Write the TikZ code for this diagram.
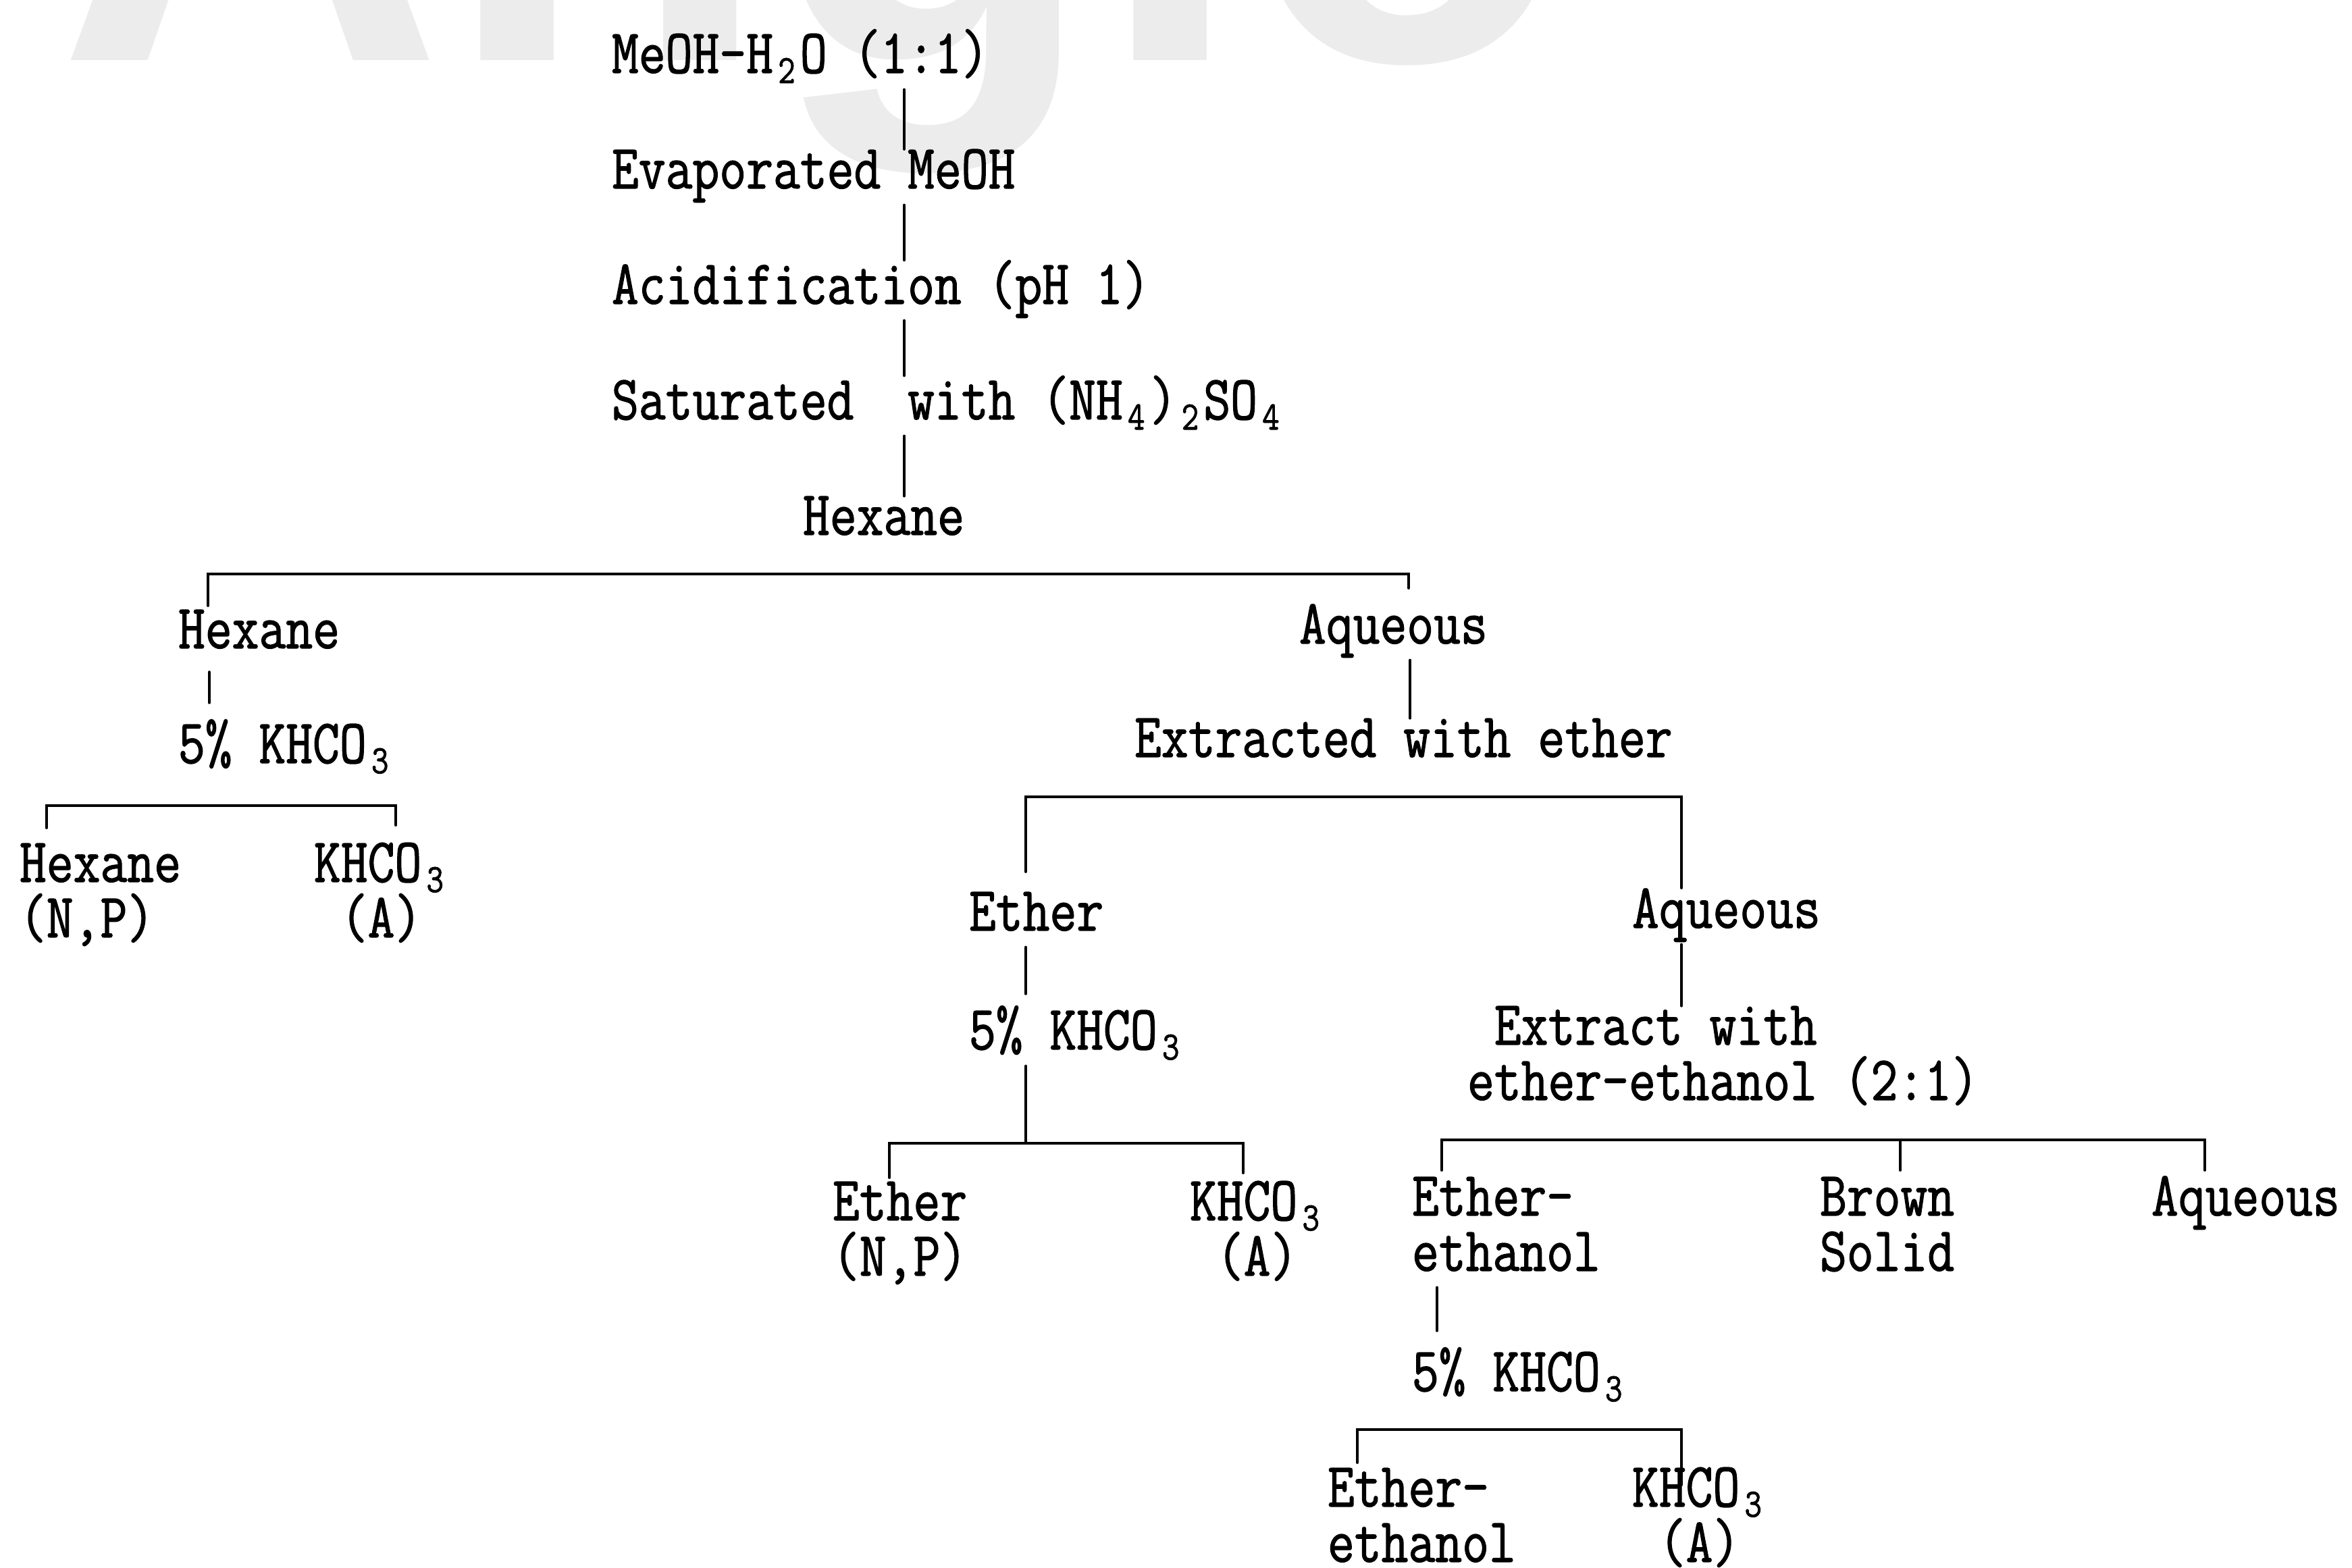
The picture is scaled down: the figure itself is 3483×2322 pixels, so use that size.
\documentclass[tikz,border=0pt]{standalone}
\usepackage{graphicx}
\usepackage{fontspec}
\newfontfamily\tw[FakeStretch=0.83,FakeBold=1.3]{Latin Modern Mono}
\newfontfamily\wmfont{Liberation Sans}
\newcommand\sbs[1]{\makebox[\fontcharwd\font`0][c]{\raisebox{-4.3pt}{\fontsize{17}{17}\selectfont #1}}}
\newcommand\tl[1]{\vtop{\baselineskip=23.3pt\lineskiplimit=-100pt\lineskip=0pt\let\\\cr\halign{\strut##\hfil\cr#1\crcr}}}
\begin{document}
\begin{tikzpicture}[x=0.01cm,y=-0.01cm,
  lbl/.style={anchor=base west,inner sep=0pt,outer sep=0pt,font=\tw\fontsize{26.5}{23.3}\selectfont},
  wire/.style={line width=1.1pt,line cap=round,line join=miter},
  wmark/.style={anchor=base west,inner sep=0pt,text=gray!15,font=\wmfont\bfseries\fontsize{225}{225}\selectfont}]
\useasboundingbox (0,0) rectangle (3483,2322);
\clip (0,0) rectangle (3483,2322);
% watermark
\node[wmark] (wm) at (85,90) {Angio};
% main chain
\node[lbl] (s1) at (906,108) {\tl{MeOH-H\sbs{2}O (1:1)}};
\node[lbl] (s2) at (906,279) {\tl{Evaporated MeOH}};
\node[lbl] (s3) at (906,450) {\tl{Acidification (pH 1)}};
\node[lbl] (s4) at (906,621) {\tl{Saturated\ \ with (NH\sbs{4})\sbs{2}SO\sbs{4}}};
\node[lbl] (s5) at (1189,792) {\tl{Hexane}};
% left branch
\node[lbl] (hx) at (264,960) {\tl{Hexane}};
\node[lbl] (hxk) at (264,1130) {\tl{5\% KHCO\sbs{3}}};
\node[lbl] (hxh) at (29,1306) {\tl{Hexane\\(N,P)}};
\node[lbl] (hxa) at (465,1306) {\tl{KHCO\sbs{3}\\\phantom{K}(A)}};
% right branch
\node[lbl] (aq) at (1924,953) {\tl{Aqueous}};
\node[lbl] (ext) at (1680,1121) {\tl{Extracted with ether}};
\node[lbl] (et) at (1435,1378) {\tl{Ether}};
\node[lbl] (etk) at (1435,1554) {\tl{5\% KHCO\sbs{3}}};
\node[lbl] (ete) at (1233,1807) {\tl{Ether\\(N,P)}};
\node[lbl] (eta) at (1762,1807) {\tl{KHCO\sbs{3}\\\phantom{K}(A)}};
\node[lbl] (aq2) at (2417,1374) {\tl{Aqueous}};
\node[lbl] (ext2) at (2173,1547) {\tl{\phantom{e}Extract with\\ether-ethanol (2:1)}};
\node[lbl] (ee) at (2091,1800) {\tl{Ether-\\ethanol}};
\node[lbl] (bs) at (2695,1800) {\tl{Brown\\Solid}};
\node[lbl] (aq3) at (3186,1800) {\tl{Aqueous}};
\node[lbl] (eek) at (2091,2060) {\tl{5\% KHCO\sbs{3}}};
\node[lbl] (ee2) at (1966,2231) {\tl{Ether-\\ethanol}};
\node[lbl] (eea) at (2417,2231) {\tl{KHCO\sbs{3}\\\phantom{K}(A)}};
% x positions of stems
\coordinate (xm) at (1339,0);
\coordinate (xl) at (310,0);
\coordinate (xa) at (2088,0);
\coordinate (xe) at (1519,0);
\coordinate (xq) at (2490,0);
\coordinate (xt) at (2128,0);
% stems
\draw[wire] (xm |- s1.south) -- (xm |- s2.north);
\draw[wire] (xm |- s2.south) -- (xm |- s3.north);
\draw[wire] (xm |- s3.south) -- (xm |- s4.north);
\draw[wire] (xm |- s4.south) -- (xm |- s5.north);
\draw[wire] ([yshift=-3pt]xl |- hx.south) -- ([yshift=7pt]xl |- hxk.north);
\draw[wire] (xa |- aq.south) -- (xa |- ext.north);
\draw[wire] (xe |- et.south) -- ([yshift=5pt]xe |- etk.north);
\draw[wire] (xq |- aq2.south) -- (xq |- ext2.north);
\draw[wire] (xt |- ee.south) -- ([yshift=7pt]xt |- eek.north);
% bracket 1
\coordinate (b1l) at (308,850); \coordinate (b1r) at (2086,850);
\coordinate (b1le) at (308,897); \coordinate (b1re) at (2086,871);
\draw[wire] (b1le) -- (b1l) -- (b1r) -- (b1re);
% bracket 2
\coordinate (b2l) at (69,1193); \coordinate (b2r) at (586,1193);
\coordinate (b2le) at (69,1226); \coordinate (b2re) at (586,1222);
\draw[wire] (b2le) -- (b2l) -- (b2r) -- (b2re);
% bracket 3
\coordinate (b3l) at (1519,1180); \coordinate (b3r) at (2490,1180);
\coordinate (b3le) at (1519,1291); \coordinate (b3re) at (2490,1315);
\draw[wire] (b3le) -- (b3l) -- (b3r) -- (b3re);
% bracket 4 with stem
\coordinate (b4l) at (1317,1693); \coordinate (b4r) at (1841,1693);
\coordinate (b4le) at (1317,1744); \coordinate (b4re) at (1841,1737);
\coordinate (b4s) at (1519,1693);
\draw[wire] (b4le) -- (b4l) -- (b4r) -- (b4re);
\draw[wire] (xe |- etk.south) -- (b4s);
% bracket 5
\coordinate (b5l) at (2135,1688); \coordinate (b5m) at (2814,1688); \coordinate (b5r) at (3265,1688);
\coordinate (b5le) at (2135,1733); \coordinate (b5me) at (2814,1733); \coordinate (b5re) at (3265,1733);
\draw[wire] (b5le) -- (b5l) -- (b5r) -- (b5re);
\draw[wire] (b5m) -- (b5me);
% bracket 6
\coordinate (b6l) at (2010,2117); \coordinate (b6r) at (2490,2117);
\coordinate (b6le) at (2010,2166); \coordinate (b6re) at (2490,2199);
\draw[wire] (b6le) -- (b6l) -- (b6r) -- (b6re);
\end{tikzpicture}
\end{document}
